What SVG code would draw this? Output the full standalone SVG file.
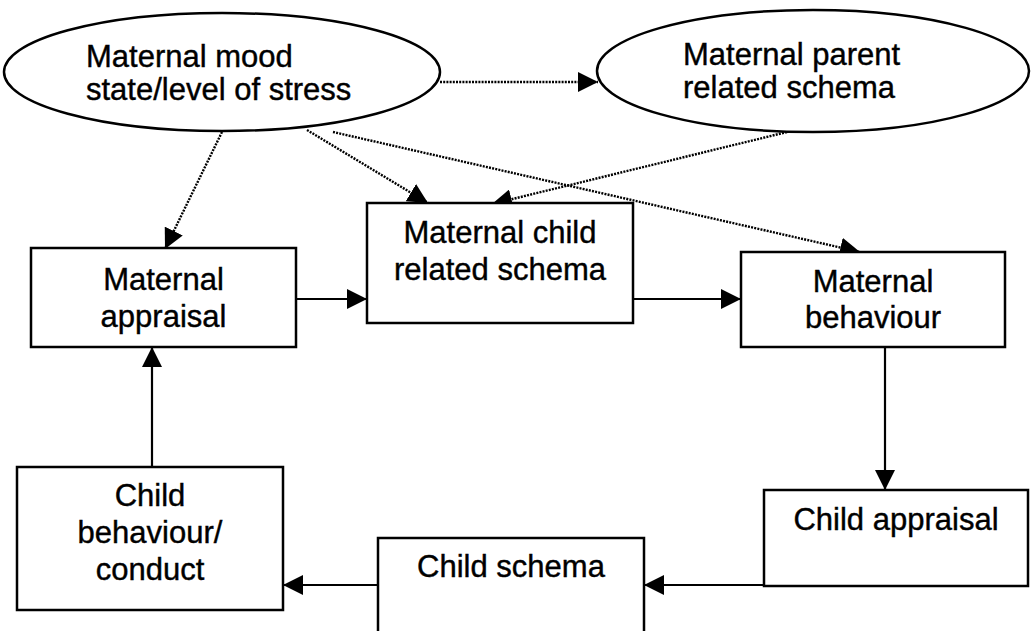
<svg xmlns="http://www.w3.org/2000/svg" width="1031" height="631" viewBox="0 0 1031 631">
<style>
.n{fill:#fff;stroke:#000;stroke-width:2.5}
.t{font-family:"Liberation Sans",Arial,sans-serif;font-size:31px;fill:#000;stroke:#000;stroke-width:0.4}
.c{text-anchor:middle}
.s{fill:none;stroke:#000;stroke-width:2.2;marker-end:url(#ah)}
.d{fill:none;stroke:#000;stroke-width:2.4;stroke-dasharray:2 1.2;marker-end:url(#ah)}
</style>
<defs>
<marker id="ah" viewBox="0 0 20 20" refX="20" refY="10" markerWidth="20" markerHeight="20" markerUnits="userSpaceOnUse" orient="auto">
<path d="M0,0 L20,10 L0,20 z" fill="#000"/>
</marker>
</defs>
<rect width="1031" height="631" fill="#fff"/>
<g id="connectors">
<line class="s" x1="296" y1="299" x2="367" y2="299"/>
<line class="s" x1="633" y1="299" x2="741" y2="299"/>
<line class="s" x1="885" y1="347" x2="885" y2="490"/>
<line class="s" x1="764" y1="585" x2="644" y2="585"/>
<line class="s" x1="378" y1="585" x2="283" y2="585"/>
<line class="s" x1="152" y1="467" x2="152" y2="347"/>
<line class="d" x1="222" y1="132" x2="165" y2="249"/>
<line class="d" x1="440" y1="82" x2="598" y2="82"/>
<line class="d" x1="307" y1="130" x2="428" y2="203"/>
<line class="d" x1="787" y1="132" x2="492" y2="204"/>
<line class="d" x1="333" y1="132" x2="860" y2="252"/>
</g>
<g id="mood">
<ellipse class="n" cx="222" cy="72" rx="218" ry="59"/>
<text class="t" x="86" y="67">Maternal mood</text>
<text class="t" x="86" y="100">state/level of stress</text>
</g>
<g id="parent-schema">
<ellipse class="n" cx="813" cy="71" rx="216" ry="61"/>
<text class="t" x="683" y="65">Maternal parent</text>
<text class="t" x="683" y="98">related schema</text>
</g>
<g id="maternal-appraisal">
<rect class="n" x="31" y="248" width="265" height="99"/>
<text class="t c" x="163.5" y="290">Maternal</text>
<text class="t c" x="163.5" y="327">appraisal</text>
</g>
<g id="child-related-schema">
<rect class="n" x="367" y="203" width="266" height="120"/>
<text class="t c" x="500" y="243">Maternal child</text>
<text class="t c" x="500" y="280">related schema</text>
</g>
<g id="maternal-behaviour">
<rect class="n" x="741" y="252" width="264" height="95"/>
<text class="t c" x="873" y="292">Maternal</text>
<text class="t c" x="873" y="328">behaviour</text>
</g>
<g id="child-appraisal">
<rect class="n" x="764" y="490" width="264" height="96"/>
<text class="t c" x="896" y="530">Child appraisal</text>
</g>
<g id="child-schema">
<rect class="n" x="378" y="538" width="266" height="120"/>
<text class="t c" x="511" y="577">Child schema</text>
</g>
<g id="child-behaviour">
<rect class="n" x="17" y="467" width="266" height="143"/>
<text class="t c" x="150" y="506">Child</text>
<text class="t c" x="150" y="543">behaviour/</text>
<text class="t c" x="150" y="580">conduct</text>
</g>
</svg>
